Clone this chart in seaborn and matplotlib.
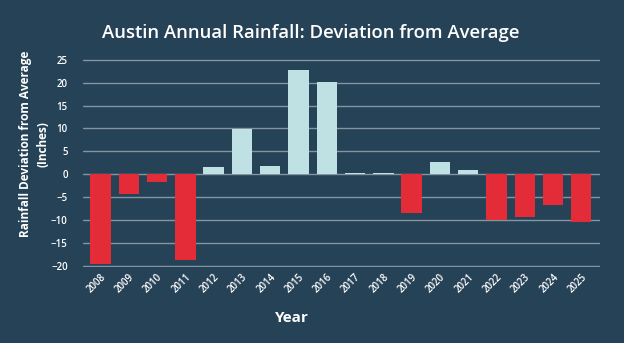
import matplotlib
matplotlib.use("Agg")
import matplotlib.pyplot as plt
import seaborn as sns
import pandas as pd

# Annual rainfall deviation from the long-term average (inches)
years = [str(y) for y in range(2008, 2026)]
deviation = [-19.5, -4.4, -1.6, -18.8, 1.6, 9.8, 1.8, 22.8, 20.2,
             0.3, 0.3, -8.5, 2.6, 0.9, -10.0, -9.4, -6.8, -10.4]
y_ticks = [-20, -15, -10, -5, 0, 5, 10, 15, 20, 25]

BG = "#264257"
WET = "#BFE1E4"
DRY = "#E32C37"
GRID = "#8494A1"

df = pd.DataFrame({"Year": years, "Deviation": deviation})
df["Kind"] = ["wet" if v >= 0 else "dry" for v in deviation]

sns.set_theme(style="dark")
plt.rcParams["font.family"] = ["Open Sans", "DejaVu Sans"]

fig = plt.figure(figsize=(6.24, 3.43), dpi=100, facecolor=BG)
ax = fig.add_axes([0.133, 0.2207, 0.8285, 0.6093])
ax.set_facecolor(BG)

sns.barplot(data=df, x="Year", y="Deviation", hue="Kind",
            palette={"wet": WET, "dry": DRY}, width=0.72, saturation=1,
            dodge=False, legend=False, ax=ax, zorder=3, linewidth=0)

ax.set_ylim(-20.3, 25.3)
ax.set_xlim(-0.62, 17.66)
ax.set_yticks(y_ticks)
ax.yaxis.grid(True, color=GRID, linewidth=1.0, zorder=0)
ax.xaxis.grid(False)
for s in ax.spines.values():
    s.set_visible(False)

ax.tick_params(axis="y", colors="white", labelsize=7, length=0, pad=11)
ax.tick_params(axis="x", colors="white", labelsize=7, length=0, pad=3)
for lab in ax.get_xticklabels():
    lab.set_rotation(45)
    lab.set_ha("right")
    lab.set_rotation_mode("anchor")
    lab.set_fontweight("semibold")
for lab in ax.get_yticklabels():
    lab.set_fontweight("semibold")

ax.set_xlabel("Year", color="white", fontsize=11, fontweight="bold")
ax.xaxis.set_label_coords((292 - 83) / 517, -0.21)
ax.set_ylabel("Rainfall Deviation from Average\n(Inches)", color="white",
              fontsize=8.5, fontweight="bold", linespacing=1.5)
ax.yaxis.set_label_coords(-0.094, 0.59)
ax.yaxis.label.set_va("center")

fig.text(311 / 624, 1 - 33 / 343, "Austin Annual Rainfall: Deviation from Average",
         color="white", fontsize=13.3, fontweight="semibold",
         ha="center", va="center")

fig.savefig("out.png", dpi=100, facecolor=BG)
